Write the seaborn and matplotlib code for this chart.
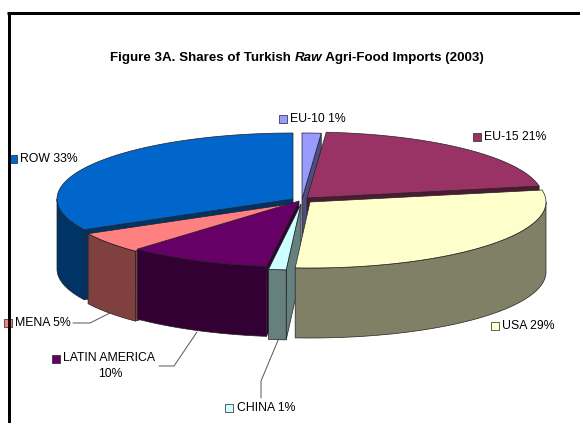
import numpy as np
import matplotlib
matplotlib.use("Agg")
import matplotlib.pyplot as plt
import seaborn as sns

title_start = "Figure 3A. Shares of Turkish "
title_em = "Raw"
title_end = " Agri-Food Imports (2003)"
regions = ["EU-10", "EU-15", "USA", "CHINA", "LATIN AMERICA", "MENA", "ROW"]
shares = [1.3, 20.8, 28.9, 1.2, 9.8, 5.3, 32.7]
top_colors = ["#9999FF", "#993366", "#FFFFCC", "#CCFFFF", "#660066", "#FF8080", "#0066CC"]
side_colors = ["#4D4D80", "#4D1A33", "#808066", "#668080", "#330033", "#804040", "#003366"]

sns.set_theme(style="white", rc={"font.family": ["Liberation Sans", "DejaVu Sans"]})
top_pal = sns.color_palette(top_colors)
side_pal = sns.color_palette(side_colors)

fig = plt.figure(figsize=(5.8, 4.23), dpi=100, facecolor="white")
ax = fig.add_axes([0, 0, 1, 1])
ax.set_xlim(0, 580)
ax.set_ylim(423, 0)
ax.axis("off")

RX, RY, DEPTH = 236, 66, 70
apex = {"EU-10": (302, 199), "EU-15": (307, 198), "USA": (310, 202), "CHINA": (301, 204),
        "LATIN AMERICA": (299, 201), "MENA": (297, 203), "ROW": (293, 199)}
edges = np.cumsum([0] + shares) / sum(shares) * 2 * np.pi
spans = {r: (edges[i], edges[i + 1], i) for i, r in enumerate(regions)}

def rim(cx, cy, a0, a1, n=80):
    t = np.linspace(a0, a1, n)
    return cx + RX * np.sin(t), cy - RY * np.cos(t)

def draw(name, z):
    a0, a1, i = spans[name]
    cx, cy = apex[name]
    ec = "#222222"
    lw = 0.5
    # radial faces that look toward the viewer
    for a, visible in ((a0, np.sin(a0) < -1e-9), (a1, np.sin(a1) > 1e-9)):
        if visible:
            rx, ry = cx + RX * np.sin(a), cy - RY * np.cos(a)
            ax.fill([cx, rx, rx, cx], [cy, ry, ry + DEPTH, cy + DEPTH], color=side_pal[i],
                    ec=ec, lw=lw, zorder=z)
    # front rim
    lo, hi = max(a0, np.pi / 2), min(a1, 3 * np.pi / 2)
    if hi > lo:
        x, y = rim(cx, cy, lo, hi)
        ax.fill(np.r_[x, x[::-1]], np.r_[y, y[::-1] + DEPTH], color=side_pal[i], ec=ec, lw=lw, zorder=z + 0.1)
    # top
    x, y = rim(cx, cy, a0, a1)
    ax.fill(np.r_[cx, x], np.r_[cy, y], color=top_pal[i], ec=ec, lw=lw, zorder=z + 0.2)

for z, name in enumerate(["ROW", "EU-10", "EU-15", "MENA", "LATIN AMERICA", "CHINA", "USA"]):
    draw(name, 2 + z)

# frame
ax.plot([8.5, 8.5], [423, 12], color="black", lw=2.16, solid_capstyle="butt", zorder=20)
ax.plot([7, 580], [13.5, 13.5], color="black", lw=2.16, solid_capstyle="butt", zorder=20)

# title
fs_t = 9.65
tb = 61
t = ax.text(110, tb, title_start, fontsize=fs_t, fontweight="bold", va="baseline", ha="left", color="black")
fig.canvas.draw()
r = fig.canvas.get_renderer()
xp = t.get_window_extent(r).x1
t2 = ax.text(xp, tb, title_em, fontsize=fs_t, fontweight="bold", style="italic", va="baseline", ha="left", color="black")
xp = t2.get_window_extent(r).x1
ax.text(xp, tb, title_end, fontsize=fs_t, fontweight="bold", va="baseline", ha="left", color="black")

# labels
FS = 8.8
def lab(i, sx, sy, tx, ty):
    ax.scatter([sx], [sy], marker="s", s=27, color=top_pal[i], edgecolors="#222222", linewidths=0.5, zorder=15)
    s = f"{regions[i]} {round(shares[i])}%"
    ax.text(tx, ty, s, fontsize=FS, color="black", va="center", ha="left", zorder=16)

lab(0, 283, 119, 290, 119)
lab(1, 477, 137, 484, 137)
lab(2, 495, 326, 502, 326)
lab(3, 229, 408, 237, 408)
lab(5, 8, 323, 15, 323)
lab(6, 12.5, 159, 20, 159)
ax.scatter([55.5], [359], marker="s", s=27, color=top_pal[4], edgecolors="#222222", linewidths=0.5, zorder=15)
ax.text(63, 358, regions[4], fontsize=FS, color="black", va="center", ha="left")
ax.text(110, 374, f"{round(shares[4])}%", fontsize=FS, color="black", va="center", ha="center")

# leaders
lc = "#555555"
for xs, ys in [([73, 90, 110], [323, 323, 313]),
               ([159, 174, 197], [366, 366, 332]),
               ([261, 261, 279], [398, 381, 338])]:
    ax.plot(xs, ys, color=lc, lw=0.7, zorder=1)

fig.savefig("out.png", dpi=100, facecolor="white")
